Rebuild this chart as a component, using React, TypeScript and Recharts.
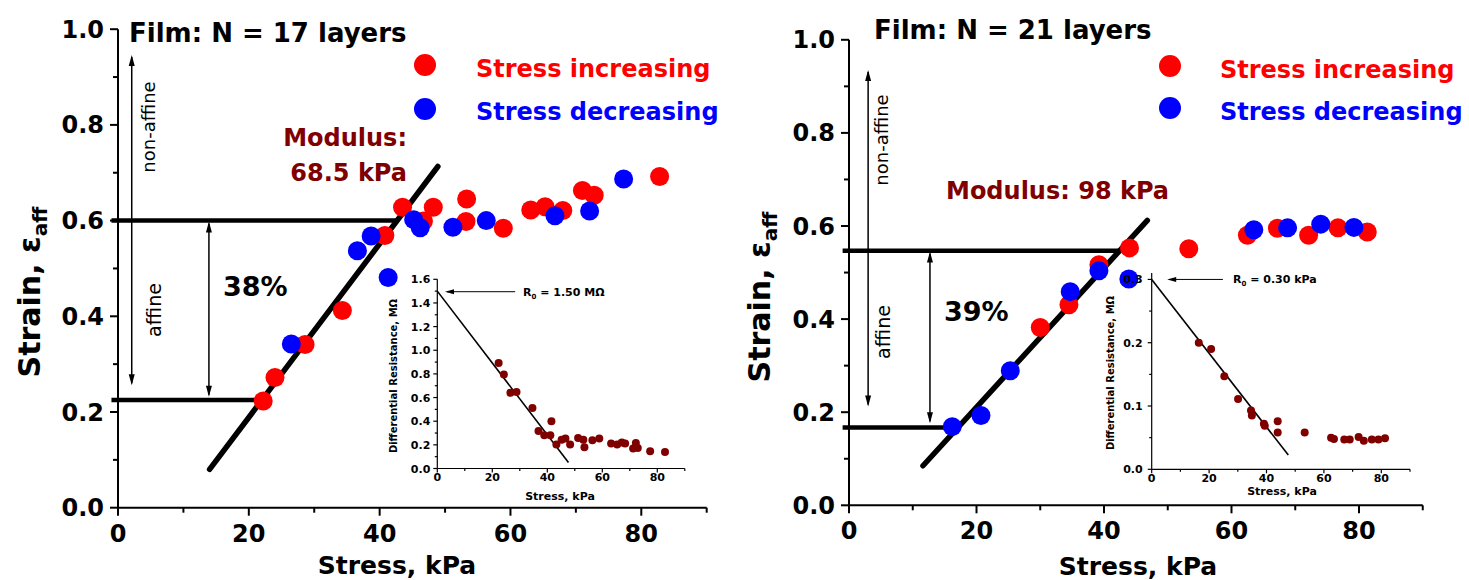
import React from "react";
import { ScatterChart, Scatter, XAxis, YAxis, ReferenceLine } from "recharts";

const FONT = '"DejaVu Sans", Verdana, sans-serif';
const RED = "#ff0000";
const BLUE = "#0000ff";
const MAROON = "#800000";

// axis ticks
const STRESS_TICKS = [0, 10, 20, 30, 40, 50, 60, 70, 80, 90];
const STRESS_LABELS = [0, 20, 40, 60, 80];
const STRAIN_TICKS = [0, 0.1, 0.2, 0.3, 0.4, 0.5, 0.6, 0.7, 0.8, 0.9, 1.0];
const STRAIN_LABELS = [0, 0.2, 0.4, 0.6, 0.8, 1.0];
const RES17_TICKS = [0, 0.1, 0.2, 0.3, 0.4, 0.5, 0.6, 0.7, 0.8, 0.9, 1.0, 1.1, 1.2, 1.3, 1.4, 1.5, 1.6];
const RES17_LABELS = [0, 0.2, 0.4, 0.6, 0.8, 1.0, 1.2, 1.4, 1.6];
const RES21_TICKS = [0, 0.05, 0.1, 0.15, 0.2, 0.25, 0.3];
const RES21_LABELS = [0, 0.1, 0.2, 0.3];

// N = 17 layers: [stress kPa, strain]
const N17_UP: [number, number][] = [
  [22.2, 0.223], [24.0, 0.272], [28.6, 0.341], [34.3, 0.412], [40.8, 0.569],
  [43.5, 0.628], [46.7, 0.599], [48.2, 0.628], [53.3, 0.645], [53.2, 0.598],
  [58.9, 0.584], [63.1, 0.622], [65.3, 0.629], [68.0, 0.621], [71.0, 0.663],
  [72.8, 0.653], [82.8, 0.692],
];
const N17_DOWN: [number, number][] = [
  [26.5, 0.342], [36.6, 0.537], [38.7, 0.568], [41.3, 0.481], [45.2, 0.602],
  [46.2, 0.585], [51.2, 0.586], [56.3, 0.6], [66.8, 0.61], [72.1, 0.62], [77.3, 0.687],
];
const N17_FIT: [number, number][] = [[14.0, 0.08], [48.9, 0.713]];
const N17_LEVELS = [0.6, 0.225];
const N17_LEVEL_ENDS = [42.8, 21.7];

// N = 17 inset: differential resistance (MOhm)
const N17_RES: [number, number][] = [
  [22.3, 0.893], [24.2, 0.794], [26.6, 0.64], [28.8, 0.646], [34.6, 0.511],
  [36.8, 0.317], [38.9, 0.281], [41.1, 0.281], [41.5, 0.399], [43.3, 0.202],
  [45.2, 0.244], [46.6, 0.253], [48.3, 0.202], [51.2, 0.258], [53.1, 0.244],
  [53.5, 0.18], [56.4, 0.239], [58.9, 0.253], [63.2, 0.211], [65.4, 0.202],
  [67.1, 0.219], [68.3, 0.211], [71.2, 0.169], [72.2, 0.216], [72.9, 0.174],
  [77.4, 0.146], [82.8, 0.14],
];
const N17_RES_FIT: [number, number][] = [[0, 1.5], [47.7, 0.05]];

// N = 21 layers
const N21_UP: [number, number][] = [
  [30.0, 0.382], [34.5, 0.431], [39.2, 0.517], [44.0, 0.553], [53.3, 0.551],
  [62.5, 0.58], [67.2, 0.595], [72.1, 0.58], [76.7, 0.596], [81.3, 0.587],
];
const N21_DOWN: [number, number][] = [
  [16.2, 0.169], [20.7, 0.193], [25.3, 0.289], [34.7, 0.459], [39.2, 0.504],
  [43.9, 0.486], [63.5, 0.592], [68.8, 0.596], [74.0, 0.604], [79.2, 0.597],
];
const N21_FIT: [number, number][] = [[11.6, 0.085], [46.8, 0.612]];
const N21_LEVELS = [0.547, 0.167];
const N21_LEVEL_ENDS = [42.7, 17.3];

const N21_RES: [number, number][] = [
  [16.4, 0.2], [20.7, 0.19], [25.3, 0.147], [30.1, 0.111], [34.6, 0.093],
  [34.9, 0.085], [39.1, 0.072], [39.4, 0.069], [43.9, 0.076], [43.9, 0.058],
  [53.3, 0.058], [62.5, 0.05], [63.5, 0.048], [67.1, 0.047], [69.0, 0.047],
  [72.1, 0.051], [73.9, 0.045], [76.7, 0.047], [79.0, 0.047], [81.3, 0.049],
];
const N21_RES_FIT: [number, number][] = [[0, 0.3], [47.6, 0.0225]];

const pts = (a: [number, number][]) => a.map(([x, y]) => ({ x, y }));
const isIn = (list: number[], v: number) => list.some((l) => Math.abs(l - v) < 1e-6);

function xTick(labels: number[], o: { big: number; small: number; sw: number; fs: number; dy: number }) {
  return (p: any) => {
    const major = isIn(labels, p.payload.value);
    return (
      <g>
        <line x1={p.x} x2={p.x} y1={p.y} y2={p.y + (major ? o.big : o.small)} stroke="#000" strokeWidth={o.sw} />
        {major && (
          <text x={p.x} y={p.y + o.dy} textAnchor="middle" fontSize={o.fs} fontWeight="bold" fontFamily={FONT} fill="#000">
            {p.payload.value}
          </text>
        )}
      </g>
    );
  };
}

function yTick(labels: number[], o: { big: number; small: number; sw: number; fs: number; dx: number; dy: number }) {
  return (p: any) => {
    const major = isIn(labels, p.payload.value);
    return (
      <g>
        <line x1={p.x} x2={p.x - (major ? o.big : o.small)} y1={p.y} y2={p.y} stroke="#000" strokeWidth={o.sw} />
        {major && (
          <text x={p.x - o.dx} y={p.y + o.dy} textAnchor="end" fontSize={o.fs} fontWeight="bold" fontFamily={FONT} fill="#000">
            {p.payload.value.toFixed(1)}
          </text>
        )}
      </g>
    );
  };
}

const vArrow = (p: any) => {
  const x = p.x1;
  const top = Math.min(p.y1, p.y2);
  const bot = Math.max(p.y1, p.y2);
  return (
    <g>
      <line x1={x} x2={x} y1={top + 2} y2={bot - 2} stroke="#000" strokeWidth={1.5} />
      <path d={`M${x},${top} L${x - 3},${top + 11} L${x + 3},${top + 11} Z`} fill="#000" />
      <path d={`M${x},${bot} L${x - 3},${bot - 11} L${x + 3},${bot - 11} Z`} fill="#000" />
    </g>
  );
};

const hArrow = (p: any) => {
  const y = p.y1;
  const tip = Math.min(p.x1, p.x2);
  const tail = Math.max(p.x1, p.x2);
  return (
    <g>
      <line x1={tip + 2} x2={tail} y1={y} y2={y} stroke="#000" strokeWidth={1} />
      <path d={`M${tip},${y} L${tip + 9},${y - 2.5} L${tip + 9},${y + 2.5} Z`} fill="#000" />
    </g>
  );
};

const dot = (color: string, r: number) => (p: any) => <circle cx={p.cx} cy={p.cy} r={r} fill={color} />;

const MAIN_X = { big: 8, small: 5, sw: 2, fs: 24, dy: 34 };
const MAIN_Y = { big: 8, small: 5, sw: 2, fs: 24, dx: 14, dy: 8.5 };
const INSET_X = { big: 4, small: 2.5, sw: 1.2, fs: 11, dy: 12.5 };

// axis boxes are reserved inside the margins
const AX_W = 40;
const AX_H = 30;

function MainPanel(props: {
  left: number; width: number; plot: { top: number; right: number; bottom: number; left: number };
  up: [number, number][]; down: [number, number][]; fit: [number, number][];
  levels: number[]; ends: number[]; arrowX: number[]; arrows: [number, number][];
}) {
  const { up, down, fit, levels, ends, arrowX, arrows, plot } = props;
  const margin = { top: plot.top, right: plot.right, bottom: plot.bottom - AX_H, left: plot.left - AX_W };
  return (
    <div style={{ position: "absolute", left: props.left, top: 0 }}>
      <ScatterChart width={props.width} height={580} margin={margin}>
        <XAxis type="number" dataKey="x" domain={[0, 90]} ticks={STRESS_TICKS} interval={0}
          height={AX_H} tickSize={0} tickMargin={0} tickLine={false}
          axisLine={{ stroke: "#000", strokeWidth: 2 }} tick={xTick(STRESS_LABELS, MAIN_X)} />
        <YAxis type="number" dataKey="y" domain={[0, 1]} ticks={STRAIN_TICKS} interval={0}
          width={AX_W} tickSize={0} tickMargin={0} tickLine={false}
          axisLine={{ stroke: "#000", strokeWidth: 2 }} tick={yTick(STRAIN_LABELS, MAIN_Y)} />
        {levels.map((lv, i) => (
          <ReferenceLine key={"lv" + i} segment={[{ x: -1, y: lv }, { x: ends[i], y: lv }]}
            stroke="#000" strokeWidth={4.5} ifOverflow="visible" />
        ))}
        {arrows.map((a, i) => (
          <ReferenceLine key={"ar" + i} segment={[{ x: arrowX[i], y: a[0] }, { x: arrowX[i], y: a[1] }]}
            ifOverflow="visible" shape={vArrow} />
        ))}
        <ReferenceLine segment={[{ x: fit[0][0], y: fit[0][1] }, { x: fit[1][0], y: fit[1][1] }]}
          stroke="#000" strokeWidth={5.5} strokeLinecap="round" ifOverflow="visible" />
        <Scatter data={pts(up)} shape={dot(RED, 9.5)} isAnimationActive={false} />
        <Scatter data={pts(down)} shape={dot(BLUE, 9.5)} isAnimationActive={false} />
      </ScatterChart>
    </div>
  );
}

function InsetPanel(props: {
  left: number; top: number; width: number; height: number; plot: { top: number; right: number; bottom: number; left: number };
  yMax: number; yTicks: number[]; yLabels: number[]; ydx: number;
  data: [number, number][]; fit: [number, number][]; r0: [number, number, number];
}) {
  const { data, fit, r0, plot } = props;
  const margin = { top: plot.top, right: plot.right, bottom: plot.bottom - 20, left: plot.left - 30 };
  return (
    <div style={{ position: "absolute", left: props.left, top: props.top }}>
      <ScatterChart width={props.width} height={props.height} margin={margin}>
        <XAxis type="number" dataKey="x" domain={[0, 90]} ticks={STRESS_TICKS} interval={0}
          height={20} tickSize={0} tickMargin={0} tickLine={false}
          axisLine={{ stroke: "#000", strokeWidth: 1.2 }} tick={xTick(STRESS_LABELS, INSET_X)} />
        <YAxis type="number" dataKey="y" domain={[0, props.yMax]} ticks={props.yTicks} interval={0}
          width={30} tickSize={0} tickMargin={0} tickLine={false} allowDataOverflow
          axisLine={{ stroke: "#000", strokeWidth: 1.2 }}
          tick={yTick(props.yLabels, { big: 4, small: 2.5, sw: 1.2, fs: 11, dx: props.ydx, dy: 4 })} />
        <ReferenceLine segment={[{ x: fit[0][0], y: fit[0][1] }, { x: fit[1][0], y: fit[1][1] }]}
          stroke="#000" strokeWidth={1.6} ifOverflow="visible" />
        <ReferenceLine segment={[{ x: r0[0], y: r0[2] }, { x: r0[1], y: r0[2] }]}
          ifOverflow="visible" shape={hArrow} />
        <Scatter data={pts(data)} shape={dot(MAROON, 4)} isAnimationActive={false} />
      </ScatterChart>
    </div>
  );
}

const txt = { fontFamily: FONT, fontWeight: "bold" as const };

export default function App() {
  return (
    <div style={{ position: "absolute", left: 0, top: 0, width: 1469, height: 580, background: "#fff", overflow: "hidden" }}>
      <MainPanel left={0} width={740} plot={{ top: 29.2, right: 33.3, bottom: 72.3, left: 118 }}
        up={N17_UP} down={N17_DOWN} fit={N17_FIT} levels={N17_LEVELS} ends={N17_LEVEL_ENDS}
        arrowX={[2.1, 13.9]} arrows={[[0.946, 0.256], [0.598, 0.232]]} />
      <MainPanel left={730} width={739} plot={{ top: 39.8, right: 46.25, bottom: 74.7, left: 119 }}
        up={N21_UP} down={N21_DOWN} fit={N21_FIT} levels={N21_LEVELS} ends={N21_LEVEL_ENDS}
        arrowX={[3.0, 12.7]} arrows={[[0.935, 0.212], [0.545, 0.176]]} />
      <InsetPanel left={380} top={250} width={330} height={270}
        plot={{ top: 29.3, right: 25.2, bottom: 51.5, left: 57.3 }}
        yMax={1.6} yTicks={RES17_TICKS} yLabels={RES17_LABELS} ydx={7}
        data={N17_RES} fit={N17_RES_FIT} r0={[2.8, 28.3, 1.495]} />
      <InsetPanel left={1090} top={250} width={340} height={270}
        plot={{ top: 23.1, right: 20, bottom: 50.7, left: 61.7 }}
        yMax={0.31} yTicks={RES21_TICKS} yLabels={RES21_LABELS} ydx={9}
        data={N21_RES} fit={N21_RES_FIT} r0={[5.4, 24.8, 0.3]} />

      <svg width={1469} height={580} style={{ position: "absolute", left: 0, top: 0, pointerEvents: "none" }}>
        {/* left panel */}
        <text x={129} y={42} fontSize={26} {...txt}>Film: N = 17 layers</text>
        <circle cx={425} cy={65} r={11} fill={RED} />
        <circle cx={425} cy={109} r={11} fill={BLUE} />
        <text x={476} y={77} fontSize={24} fill={RED} {...txt}>Stress increasing</text>
        <text x={476} y={120} fontSize={24} fill={BLUE} {...txt}>Stress decreasing</text>
        <text x={407} y={146} fontSize={24} fill={MAROON} textAnchor="end" {...txt}>Modulus:</text>
        <text x={407} y={181} fontSize={24} fill={MAROON} textAnchor="end" {...txt}>68.5 kPa</text>
        <text x={223} y={296} fontSize={27} {...txt}>38%</text>
        <text transform="translate(155,127) rotate(-90)" textAnchor="middle" fontSize={18} fontFamily={FONT}>non-affine</text>
        <text transform="translate(161,310) rotate(-90)" textAnchor="middle" fontSize={19} fontFamily={FONT}>affine</text>
        <text transform="translate(40,292) rotate(-90)" textAnchor="middle" fontSize={30} {...txt}>
          Strain, ε<tspan fontSize={20} dy={7}>aff</tspan>
        </text>
        <text x={397} y={574} textAnchor="middle" fontSize={25} {...txt}>Stress, kPa</text>
        <text transform="translate(397,376) rotate(-90)" textAnchor="middle" fontSize={10} {...txt}>Differential Resistance, MΩ</text>
        <text x={560} y={500} textAnchor="middle" fontSize={11} {...txt}>Stress, kPa</text>
        <text x={523} y={296} fontSize={11} {...txt}>
          R<tspan fontSize={7} dy={3}>0</tspan><tspan dy={-3}> = 1.50 MΩ</tspan>
        </text>

        {/* right panel */}
        <text x={874} y={39} fontSize={26} {...txt}>Film: N = 21 layers</text>
        <circle cx={1170} cy={66} r={11} fill={RED} />
        <circle cx={1170} cy={108} r={11} fill={BLUE} />
        <text x={1220} y={78} fontSize={24} fill={RED} {...txt}>Stress increasing</text>
        <text x={1220} y={120} fontSize={24} fill={BLUE} {...txt}>Stress decreasing</text>
        <text x={946} y={199} fontSize={24} fill={MAROON} {...txt}>Modulus: 98 kPa</text>
        <text x={944} y={321} fontSize={27} {...txt}>39%</text>
        <text transform="translate(888,140) rotate(-90)" textAnchor="middle" fontSize={18} fontFamily={FONT}>non-affine</text>
        <text transform="translate(890,332) rotate(-90)" textAnchor="middle" fontSize={19} fontFamily={FONT}>affine</text>
        <text transform="translate(770,297) rotate(-90)" textAnchor="middle" fontSize={30} {...txt}>
          Strain, ε<tspan fontSize={20} dy={7}>aff</tspan>
        </text>
        <text x={1138} y={575} textAnchor="middle" fontSize={25} {...txt}>Stress, kPa</text>
        <text transform="translate(1114,373) rotate(-90)" textAnchor="middle" fontSize={10} {...txt}>Differential Resistance, MΩ</text>
        <text x={1282} y={495} textAnchor="middle" fontSize={11} {...txt}>Stress, kPa</text>
        <text x={1233} y={283} fontSize={11} {...txt}>
          R<tspan fontSize={7} dy={3}>0</tspan><tspan dy={-3}> = 0.30 kPa</tspan>
        </text>
      </svg>
    </div>
  );
}
